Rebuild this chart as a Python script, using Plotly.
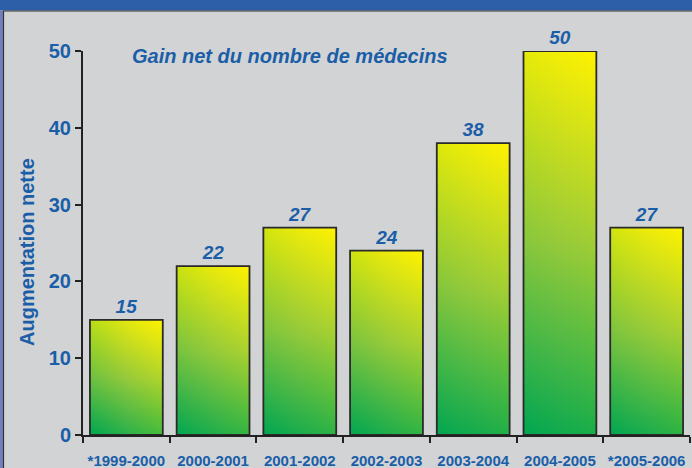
import plotly.graph_objects as go

categories = ["*1999-2000", "2000-2001", "2001-2002", "2002-2003",
              "2003-2004", "2004-2005", "*2005-2006"]
values = [15, 22, 27, 24, 38, 50, 27]
y_ticks = [0, 10, 20, 30, 40, 50]
chart_title = "Gain net du nombre de médecins"
y_title = "Augmentation nette"

W, H = 692, 468
ML, MR, MT, MB = 83, 2, 51, 33
PW, PH = W - ML - MR, H - MT - MB
YMAX = 50
BAR_W = 0.84
TAN = 0.6

BLUE = "#1a5ea8"
BG = "#d2d3d5"
OUTLINE = "#2a2a2a"
FONT = "Liberation Sans, Arial, sans-serif"
GREEN = (0, 166, 81)
MID = (150, 202, 58)
YELLOW = (255, 242, 0)


def rgba(c, a=1.0):
    return f"rgba({c[0]},{c[1]},{c[2]},{a:.3f})"


fig = go.Figure()
n = len(categories)
for i, v in enumerate(values):
    x0, x1 = i - BAR_W / 2, i + BAR_W / 2
    xs = [x0, x1, x1, x0, x0]
    ys = [0, 0, v, v, 0]
    w_px = BAR_W * PW / n
    h_px = v * PH / YMAX
    a = w_px * TAN / (w_px * TAN + h_px)
    fig.add_trace(go.Scatter(
        x=xs, y=ys, fill="toself", mode="lines", line=dict(width=0),
        fillgradient=dict(type="vertical", start=0, stop=v,
                          colorscale=[[0, rgba(GREEN)], [0.5, rgba(MID)], [1, rgba(YELLOW)]]),
        hoverinfo="skip", showlegend=False, cliponaxis=False))
    fig.add_trace(go.Scatter(
        x=xs, y=ys, fill="toself", mode="lines",
        line=dict(width=1.8, color=OUTLINE),
        fillgradient=dict(type="horizontal", start=x0, stop=x1,
                          colorscale=[[0, rgba(GREEN, a)], [0.5, rgba(MID, a)], [1, rgba(YELLOW, a)]]),
        hoverinfo="skip", showlegend=False, cliponaxis=False))

fig.add_trace(go.Bar(
    x=list(range(n)), y=values, width=BAR_W,
    marker=dict(color="rgba(0,0,0,0)", line=dict(width=0)),
    text=[str(v) for v in values], textposition="outside",
    textfont=dict(family=FONT, size=19, color=BLUE, style="italic", weight="bold"),
    cliponaxis=False, constraintext="none", showlegend=False, hoverinfo="skip"))

fx = lambda px: (px - ML) / PW
fy = lambda py: (H - MB - py) / PH

shapes = [
    dict(type="rect", xref="paper", yref="paper", x0=fx(0), x1=fx(W), y0=fy(10.5), y1=fy(0),
         fillcolor="#2c5fa8", line=dict(width=0), layer="below"),
    dict(type="rect", xref="paper", yref="paper", x0=fx(0), x1=fx(3), y0=fy(H), y1=fy(10.5),
         fillcolor="#7380bf", line=dict(width=0), layer="below"),
    dict(type="line", xref="paper", yref="paper", x0=fx(3), x1=fx(W), y0=fy(11), y1=fy(11),
         line=dict(color="#333333", width=1.2), layer="below"),
    dict(type="line", xref="paper", yref="paper", x0=fx(3.5), x1=fx(3.5), y0=fy(H), y1=fy(11),
         line=dict(color="#333333", width=1.2), layer="below"),
]

annotations = [
    dict(text=chart_title, xref="paper", yref="paper", x=fx(130), y=fy(56),
         xanchor="left", yanchor="middle", showarrow=False,
         font=dict(family=FONT, size=20, color=BLUE, style="italic", weight="bold")),
    dict(text=y_title, xref="paper", yref="paper", x=fx(27), y=fy(252),
         xanchor="center", yanchor="middle", textangle=-90, showarrow=False,
         font=dict(family=FONT, size=20, color=BLUE, weight="bold")),
]

fig.update_layout(
    width=W, height=H,
    margin=dict(l=ML, r=MR, t=MT, b=MB, autoexpand=False),
    paper_bgcolor=BG, plot_bgcolor=BG,
    shapes=shapes, annotations=annotations,
    showlegend=False,
    xaxis=dict(range=[-0.5, n - 0.5], tickmode="array", tickvals=list(range(n)),
               ticktext=categories, ticks="", showline=True, linecolor="#222222",
               linewidth=2, showgrid=False, zeroline=False, automargin=False,
               tickfont=dict(family=FONT, size=15, color=BLUE, weight="bold"),
               ticklabelstandoff=11,
               minor=dict(tickmode="array", tickvals=[i - 0.5 for i in range(n + 1)],
                          ticks="outside", ticklen=6, tickcolor="#222222", tickwidth=2,
                          showgrid=False),
               fixedrange=True),
    yaxis=dict(range=[0, YMAX], tickmode="array", tickvals=y_ticks, ticks="outside",
               ticklen=6, tickwidth=2, tickcolor="#222222", showline=True,
               linecolor="#222222", linewidth=2, showgrid=False, zeroline=False,
               automargin=False,
               tickfont=dict(family=FONT, size=20, color=BLUE, weight="bold"),
               fixedrange=True),
)

fig.write_html("out.html", config={"displayModeBar": False},
               post_script="document.body.style.margin='0';document.body.style.overflow='hidden';")
